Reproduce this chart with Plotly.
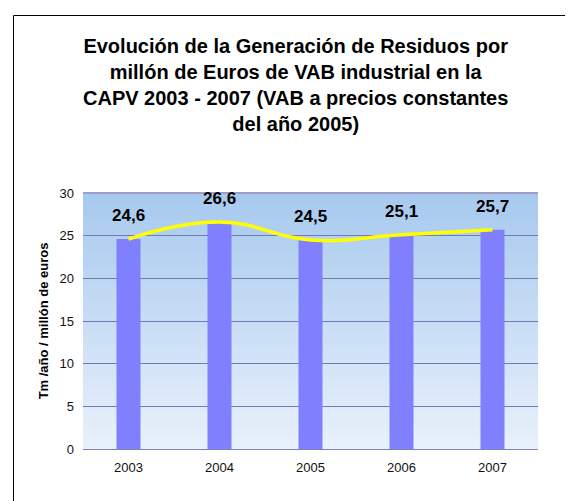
import plotly.graph_objects as go

years = ["2003", "2004", "2005", "2006", "2007"]
values = [24.6, 26.6, 24.5, 25.1, 25.7]
labels = ["24,6", "26,6", "24,5", "25,1", "25,7"]
y_ticks = [0, 5, 10, 15, 20, 25, 30]

title_text = ("<b>Evolución de la Generación de Residuos por<br>"
              "millón de Euros de VAB industrial en la<br>"
              "CAPV 2003 - 2007 (VAB a precios constantes<br>"
              "del año 2005)</b>")

OFF = 8  # page body margin
W, H = 573 - OFF, 501 - OFF
L, T = 83 - OFF, 193 - OFF
pw, ph = 455, 256
R, B = W - L - pw, H - T - ph

def px_x(x):
    return (x - OFF - L) / pw

def px_y(y):
    return (T + ph - (y - OFF)) / ph

fig = go.Figure()
fig.add_trace(go.Bar(x=years, y=values, marker=dict(color="#8080FF", line=dict(width=0)),
                     hoverinfo="skip"))
fig.add_trace(go.Scatter(x=years, y=values, mode="lines",
                         line=dict(color="#FFFF00", width=3.5, shape="spline", smoothing=1.3),
                         hoverinfo="skip"))

# gradient background
shapes = []
n = 80
top = (166, 201, 238)
bot = (233, 241, 251)
for i in range(n):
    f = (i + 0.5) / n
    c = tuple(round(bot[k] + (top[k] - bot[k]) * f) for k in range(3))
    shapes.append(dict(type="rect", xref="paper", yref="paper", x0=0, x1=1,
                       y0=i / n, y1=(i + 1) / n + 0.002, layer="below",
                       line=dict(width=0), fillcolor="rgb(%d,%d,%d)" % c))
# top border of plot area
shapes.append(dict(type="line", xref="paper", yref="paper", x0=0, x1=1, y0=1, y1=1,
                   line=dict(color="#A09EC4", width=2)))
# outer frame
shapes.append(dict(type="rect", xref="paper", yref="paper",
                   x0=px_x(13.5), x1=px_x(600), y0=px_y(530), y1=px_y(15.5),
                   line=dict(color="black", width=1), fillcolor="rgba(0,0,0,0)"))

annotations = []
for i, (v, lab) in enumerate(zip(values, labels)):
    annotations.append(dict(x=i, y=v, xref="x", yref="y", text="<b>%s</b>" % lab,
                            showarrow=False, yanchor="bottom", yshift=12,
                            font=dict(family="Liberation Sans, Arial", size=17, color="black")))
annotations.append(dict(x=px_x(295), y=px_y(33), xref="paper", yref="paper",
                        text=title_text, showarrow=False, xanchor="center", yanchor="top",
                        font=dict(family="Liberation Sans, Arial", size=20, color="black")))

fig.update_layout(
    width=W, height=H,
    margin=dict(l=L, r=R, t=T, b=B),
    paper_bgcolor="white", plot_bgcolor="rgba(0,0,0,0)",
    showlegend=False, bargap=0.736,
    shapes=shapes, annotations=annotations,
    font=dict(family="Liberation Sans, Arial", size=13, color="#111111"),
)
fig.update_xaxes(type="category", range=[-0.5, len(years) - 0.5], showline=True,
                 linecolor="#8080C0", linewidth=1, ticks="", ticklabelstandoff=6,
                 tickfont=dict(size=13), fixedrange=True)
fig.update_yaxes(range=[0, 30], tickvals=y_ticks, showgrid=True, gridcolor="#7878B8",
                 gridwidth=1, zeroline=False, ticks="", tickfont=dict(size=13),
                 ticklabelstandoff=8,
                 title=dict(text="<b>Tm /año / millón de euros</b>",
                            font=dict(size=13, color="black"), standoff=7),
                 fixedrange=True)

fig.write_html("out.html")
